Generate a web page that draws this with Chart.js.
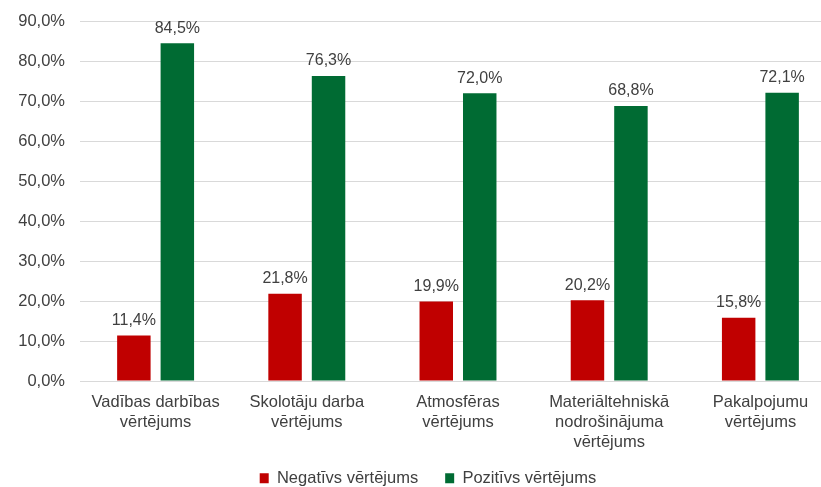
<!DOCTYPE html>
<html>
<head>
<meta charset="utf-8">
<script src="https://cdn.jsdelivr.net/npm/chart.js@4/dist/chart.umd.min.js"></script>
<style>
  html, body { margin: 0; padding: 0; background: #fff; overflow: hidden; }
  #wrap { width: 837px; height: 489px; margin-top: -2px; }
</style>
</head>
<body>
<div id="wrap"><canvas id="chart"></canvas></div>
<script>
// dati
const categories = [
  ["Vadības darbības", "vērtējums"],
  ["Skolotāju darba", "vērtējums"],
  ["Atmosfēras", "vērtējums"],
  ["Materiāltehniskā", "nodrošinājuma", "vērtējums"],
  ["Pakalpojumu", "vērtējums"]
];
const negativs = [11.4, 21.8, 19.9, 20.2, 15.8];
const pozitivs = [84.5, 76.3, 72.0, 68.8, 72.1];

const fmt = v => v.toFixed(1).replace(".", ",") + "%";

// vērtību etiķetes virs stabiņiem
const valueLabels = {
  id: "valueLabels",
  afterDatasetsDraw(chart) {
    const ctx = chart.ctx;
    ctx.save();
    ctx.font = "16px 'Liberation Sans', Arial, sans-serif";
    ctx.fillStyle = "#404040";
    ctx.textAlign = "center";
    ctx.textBaseline = "bottom";
    chart.data.datasets.forEach((ds, i) => {
      chart.getDatasetMeta(i).data.forEach((bar, j) => {
        ctx.fillText(fmt(ds.data[j]), bar.x, bar.y - 7);
      });
    });
    ctx.restore();
  }
};

// leģendu pabīda mazliet augstāk un pa labi
const legendShift = {
  id: "legendShift",
  afterLayout(chart) {
    const lg = chart.legend;
    lg.top -= 9; lg.bottom -= 9;
    lg.left += 10; lg.right += 10;
  }
};

Chart.defaults.font.family = "'Liberation Sans', Arial, sans-serif";
Chart.defaults.font.size = 16.5;
Chart.defaults.color = "#404040";

new Chart(document.getElementById("chart"), {
  type: "bar",
  data: {
    labels: categories,
    datasets: [
      {
        label: "Negatīvs vērtējums",
        data: negativs,
        backgroundColor: "#c00000",
        categoryPercentage: 0.575,
        barPercentage: 0.77
      },
      {
        label: "Pozitīvs vērtējums",
        data: pozitivs,
        backgroundColor: "#006b33",
        categoryPercentage: 0.575,
        barPercentage: 0.77
      }
    ]
  },
  options: {
    responsive: true,
    maintainAspectRatio: false,
    animation: false,
    layout: { padding: { top: 0, right: 1, left: 0, bottom: -18.5 } },
    plugins: {
      legend: {
        position: "bottom",
        labels: { boxWidth: 9, boxHeight: 10, color: "#404040", padding: 27 }
      },
      tooltip: { enabled: false }
    },
    scales: {
      x: {
        grid: { display: false },
        border: { color: "#d9d9d9" },
        ticks: { color: "#404040", maxRotation: 0, autoSkip: false, padding: 4 },
        afterFit: s => { s.height = 71; }
      },
      y: {
        min: 0,
        max: 90,
        grid: { color: "#d9d9d9", drawTicks: false },
        border: { display: false },
        ticks: {
          stepSize: 10,
          color: "#404040",
          padding: 15,
          font: { lineHeight: 1 },
          callback: v => fmt(v)
        },
        afterFit: s => { s.width = 80; }
      }
    }
  },
  plugins: [valueLabels, legendShift]
});
</script>
</body>
</html>
